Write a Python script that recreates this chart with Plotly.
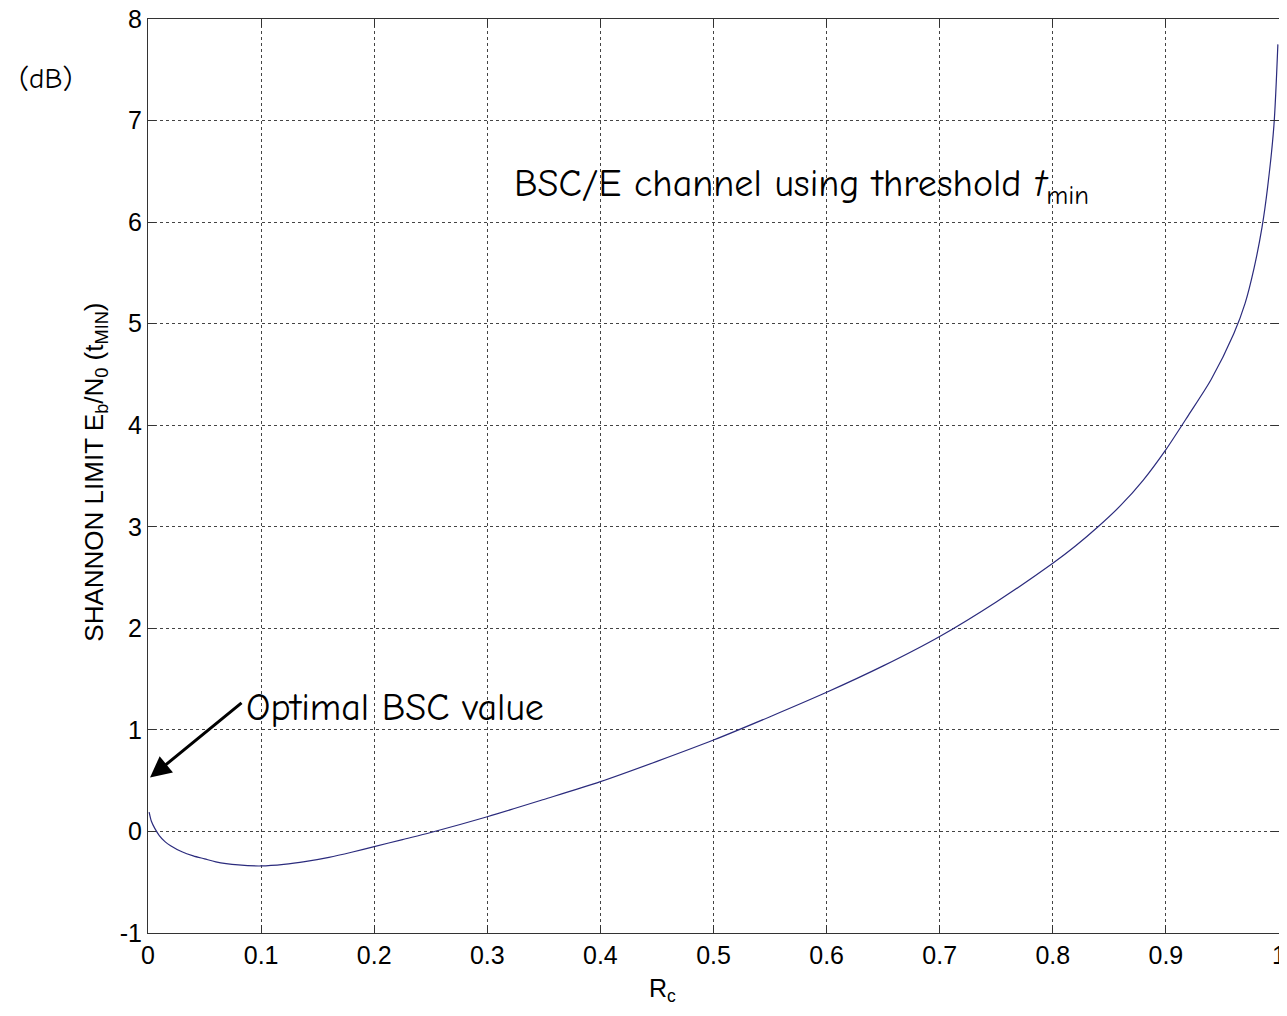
import plotly.graph_objects as go

# Data
rate = [0.001, 0.003, 0.006, 0.01, 0.015, 0.02, 0.03, 0.04, 0.05, 0.06, 0.08, 0.1,
        0.12, 0.14, 0.16, 0.18, 0.2, 0.225, 0.25, 0.3, 0.35, 0.4, 0.45, 0.5, 0.55,
        0.6, 0.65, 0.7, 0.75, 0.8, 0.82, 0.84, 0.86, 0.88, 0.9, 0.92, 0.94, 0.96,
        0.97, 0.978, 0.985, 0.99, 0.9955, 0.999]
ebn0_db = [0.19, 0.10, 0.03, -0.04, -0.10, -0.14, -0.20, -0.24, -0.27, -0.30, -0.33, -0.34,
           -0.325, -0.295, -0.255, -0.205, -0.15, -0.08, -0.01, 0.145, 0.315, 0.49, 0.69, 0.90, 1.13,
           1.37, 1.63, 1.92, 2.26, 2.64, 2.81, 3.0, 3.21, 3.46, 3.76, 4.1, 4.45, 4.9,
           5.2, 5.55, 5.95, 6.35, 6.95, 7.75]

x_ticks = [0, 0.1, 0.2, 0.3, 0.4, 0.5, 0.6, 0.7, 0.8, 0.9, 1]
x_tick_labels = ["0", "0.1", "0.2", "0.3", "0.4", "0.5", "0.6", "0.7", "0.8", "0.9", "1"]
y_ticks = [-1, 0, 1, 2, 3, 4, 5, 6, 7, 8]
y_tick_labels = ["-1", "0", "1", "2", "3", "4", "5", "6", "7", "8"]

comic = "Comic Sans MS, Comic Neue, DejaVu Sans, sans-serif"
arial = "Arial, Liberation Sans, sans-serif"

fig = go.Figure()
fig.add_trace(go.Scatter(x=rate, y=ebn0_db, mode="lines",
                         line=dict(color="#2b2b7d", width=1.2, shape="spline", smoothing=0.8),
                         showlegend=False, hoverinfo="skip"))

axis_common = dict(
    showline=True, linecolor="#333333", linewidth=1, mirror="ticks",
    ticks="inside", ticklen=8, tickcolor="#333333",
    showgrid=True, gridcolor="#444444", griddash="dot", gridwidth=1,
    zeroline=False, ticklabeloverflow="allow", automargin=False,
    tickfont=dict(family=arial, size=25, color="black"),
)

fig.update_xaxes(range=[0, 1], tickvals=x_ticks, ticktext=x_tick_labels, **axis_common)
fig.update_yaxes(range=[-1, 8], tickvals=y_ticks, ticktext=y_tick_labels, **axis_common)

fig.update_layout(
    width=1271, height=1000,
    margin=dict(l=140, r=0, t=11, b=75, autoexpand=False),
    plot_bgcolor="white", paper_bgcolor="white",
    annotations=[
        dict(xref="paper", yref="paper", x=-0.0906, y=0.9354, xanchor="center", yanchor="middle",
             text="(dB)", showarrow=False,
             font=dict(family=comic, size=29, color="black")),
        dict(xref="paper", yref="paper", x=-0.0466, y=0.504, xanchor="center", yanchor="middle",
             textangle=-90,
             text="SHANNON LIMIT E<sub>b</sub>/N<sub>0</sub> (t<sub>MIN</sub>)", showarrow=False,
             font=dict(family=arial, size=26, color="black")),
        dict(xref="paper", yref="paper", x=0.4547, y=-0.0624, xanchor="center", yanchor="middle",
             text="R<sub>c</sub>", showarrow=False,
             font=dict(family=arial, size=25, color="black")),
        dict(xref="x", yref="y", x=0.3215, y=6.35, xanchor="left", yanchor="middle",
             text="BSC/E channel using threshold <i>t</i><sub>min</sub>", showarrow=False,
             font=dict(family=comic, size=38, color="black")),
        dict(xref="x", yref="y", x=0.085, y=1.22, xanchor="left", yanchor="middle",
             text="Optimal BSC value", showarrow=False,
             font=dict(family=comic, size=38, color="black")),
        dict(xref="x", yref="y", x=0.0018, y=0.53, text="", showarrow=True,
             ax=93, ay=-76, arrowhead=2, arrowsize=1.4, arrowwidth=3, arrowcolor="black",
             standoff=0),
    ],
)

fig.write_html("out.html")
